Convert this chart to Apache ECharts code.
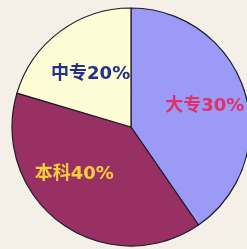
<!DOCTYPE html>
<html><head><meta charset="utf-8">
<script src="https://cdn.jsdelivr.net/npm/echarts@6/dist/echarts.min.js"></script>
<style>html,body{margin:0;padding:0;background:#f4f0e7;}#c{width:247px;height:249px;}</style>
</head><body><div id="c"></div>
<script>
var categories = ["大专", "本科", "中专"];
var values = [40.4, 39.2, 20.4];
var labelTexts = ["30%", "40%", "20%"];
var colors = ["#9b9bf7", "#993063", "#fdfcd4"];
var labelColors = ["#e0306a", "#f7cf3a", "#24308a"];
var offsets = [[14, -2], [-20, -3], [-3, -3]];

var chart = echarts.init(document.getElementById('c'));
chart.setOption({
  backgroundColor: '#f4f0e7',
  animation: false,
  series: [{
    type: 'pie',
    center: [131, 127],
    radius: 119,
    startAngle: 90,
    clockwise: true,
    silent: true,
    itemStyle: {borderColor: '#1c1c2a', borderWidth: 1.2},
    labelLine: {show: false},
    data: categories.map(function (c, i) {
      return {
        name: c,
        value: values[i],
        itemStyle: {color: colors[i]},
        label: {
          show: true,
          position: 'inside',
          formatter: c + labelTexts[i],
          color: labelColors[i],
          fontSize: 18,
          fontWeight: 'bold',
          fontFamily: '"DejaVu Sans", "Noto Sans CJK SC"',
          offset: offsets[i]
        }
      };
    })
  }]
});
</script></body></html>
